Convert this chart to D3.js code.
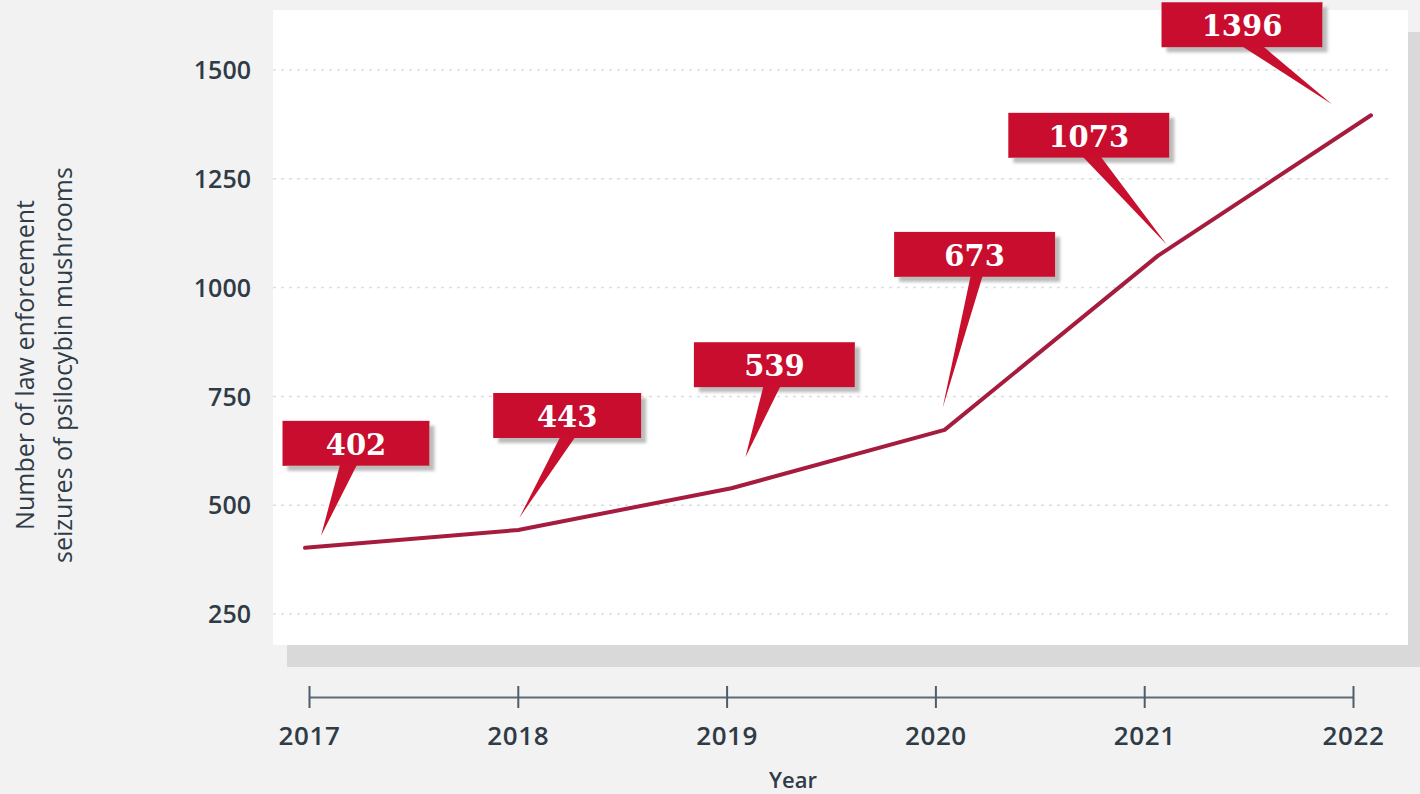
<!DOCTYPE html>
<html>
<head>
<meta charset="utf-8">
<script src="https://cdn.jsdelivr.net/npm/d3@7"></script>
<style>
  html, body { margin: 0; padding: 0; background: #f2f2f2; }
  svg { display: block; }
</style>
</head>
<body>
<svg id="chart" width="1420" height="794"></svg>
<script>
// Law enforcement seizures of psilocybin mushrooms, by year
const years = [2017, 2018, 2019, 2020, 2021, 2022];
const seizures = [402, 443, 539, 673, 1073, 1396];
const yTicks = [250, 500, 750, 1000, 1250, 1500];

// Callout placement (pixels, relative to each point): box centre/top, box width,
// pointer base span along the box bottom, pointer tip.
const calloutLayout = [
  { bx: 51,   by: -127, w: 147, b0: -16, b1: 1,  tx: 16,  ty: -12 },
  { bx: 49,   by: -137, w: 148, b0: -7,  b1: 8,  tx: 1,   ty: -12 },
  { bx: 43,   by: -146, w: 161, b0: -11, b1: 6,  tx: 14,  ty: -31 },
  { bx: 30,   by: -198, w: 161, b0: -4,  b1: 8,  tx: -2,  ty: -22 },
  { bx: -69,  by: -143, w: 161, b0: -6,  b1: 12, tx: 9,   ty: -11 },
  { bx: -129, by: -113, w: 161, b0: 0,   b1: 21, tx: -39, ty: -11 }
];

const svg = d3.select("#chart");
const ink = "#2f3b47";
const red = "#c8102e";

const defs = svg.append("defs");
const f = defs.append("filter").attr("id", "boxShadow")
  .attr("x", "-10%").attr("y", "-10%").attr("width", "130%").attr("height", "140%");
f.append("feDropShadow").attr("dx", 5).attr("dy", 5).attr("stdDeviation", 1.5)
  .attr("flood-color", "#b5b5b5").attr("flood-opacity", 0.9);

// Plot panel with offset shadow
const panel = { x: 273, y: 10, w: 1135, h: 635 };
svg.append("rect").attr("x", panel.x + 14).attr("y", panel.y + 22)
  .attr("width", panel.w + 20).attr("height", panel.h)
  .attr("fill", "#d9d9d9");
svg.append("rect").attr("x", panel.x).attr("y", panel.y)
  .attr("width", panel.w).attr("height", panel.h)
  .attr("fill", "#ffffff");

// Scales
const y = d3.scaleLinear().domain([250, 1500]).range([614, 70]);
const plotX = d3.scaleLinear().domain([2017, 2022]).range([305, 1371]);
const axisX = d3.scaleLinear().domain([2017, 2022]).range([309, 1353]);

// Y axis: dotted gridlines and labels
const yAxis = d3.axisLeft(y).tickValues(yTicks).tickSize(0).tickPadding(0)
  .tickFormat(d3.format("d"));
const yg = svg.append("g").attr("transform", "translate(251,0)").call(yAxis);
yg.select(".domain").remove();
yg.selectAll("text")
  .attr("fill", ink)
  .style("font-family", "'Open Sans', sans-serif")
  .style("font-weight", 600)
  .style("font-size", "25px")
  .attr("dy", "0.35em");

svg.append("g").selectAll("line").data(yTicks).join("line")
  .attr("x1", 273).attr("x2", 1392)
  .attr("y1", d => y(d)).attr("y2", d => y(d))
  .attr("stroke", "#dedede").attr("stroke-width", 1.5)
  .attr("stroke-dasharray", "3,5");

// Y axis title
const yTitle = svg.append("text")
  .attr("transform", "translate(0,365) rotate(-90)")
  .attr("text-anchor", "middle")
  .attr("fill", ink)
  .style("font-family", "'Open Sans', sans-serif")
  .style("font-size", "25px");
yTitle.append("tspan").attr("x", 0).attr("y", 34).text("Number of law enforcement");
yTitle.append("tspan").attr("x", 0).attr("y", 72).text("seizures of psilocybin mushrooms");

// X axis
const xAxis = d3.axisBottom(axisX).tickValues(years).tickFormat(d3.format("d"))
  .tickSizeInner(0).tickSizeOuter(0).tickPadding(0);
const xg = svg.append("g").attr("transform", "translate(0,697)").call(xAxis);
xg.select(".domain").attr("stroke", "#5d6b78").attr("stroke-width", 2);
xg.selectAll(".tick line").remove();
xg.selectAll(".tick").append("line")
  .attr("y1", -11).attr("y2", 11)
  .attr("stroke", "#4f5d6a").attr("stroke-width", 2);
xg.selectAll(".tick text")
  .attr("y", 48).attr("dy", 0)
  .attr("fill", ink)
  .style("font-family", "'Open Sans', sans-serif")
  .style("font-weight", 600)
  .style("font-size", "26px")
  .style("letter-spacing", "0.6px");

svg.append("text")
  .attr("x", 793).attr("y", 788)
  .attr("text-anchor", "middle")
  .attr("fill", ink)
  .style("font-family", "'Open Sans', sans-serif")
  .style("font-weight", 600)
  .style("font-size", "22px")
  .text("Year");

// Data line
const pts = years.map((yr, i) => [plotX(yr), y(seizures[i])]);
svg.append("path")
  .attr("d", d3.line()(pts))
  .attr("fill", "none")
  .attr("stroke", "#a51c3f")
  .attr("stroke-width", 4)
  .attr("stroke-linecap", "round")
  .attr("stroke-linejoin", "round");

// Value callouts
const boxH = 45;
const callouts = svg.append("g").selectAll("g")
  .data(seizures.map((v, i) => ({ v, p: pts[i], L: calloutLayout[i] })))
  .join("g");

callouts.append("rect")
  .attr("x", d => d.p[0] + d.L.bx - d.L.w / 2)
  .attr("y", d => d.p[1] + d.L.by)
  .attr("width", d => d.L.w)
  .attr("height", boxH)
  .attr("fill", red)
  .attr("filter", "url(#boxShadow)");

callouts.append("path")
  .attr("d", d => {
    const cx = d.p[0] + d.L.bx, bottom = d.p[1] + d.L.by + boxH - 1;
    return `M${cx + d.L.b0},${bottom}L${cx + d.L.b1},${bottom}L${d.p[0] + d.L.tx},${d.p[1] + d.L.ty}Z`;
  })
  .attr("fill", red);

callouts.append("text")
  .attr("x", d => d.p[0] + d.L.bx)
  .attr("y", d => d.p[1] + d.L.by + 34)
  .attr("text-anchor", "middle")
  .attr("fill", "#ffffff")
  .style("font-family", "'DejaVu Serif', serif")
  .style("font-weight", 700)
  .style("font-size", "29px")
  .text(d => d.v);
</script>
</body>
</html>
